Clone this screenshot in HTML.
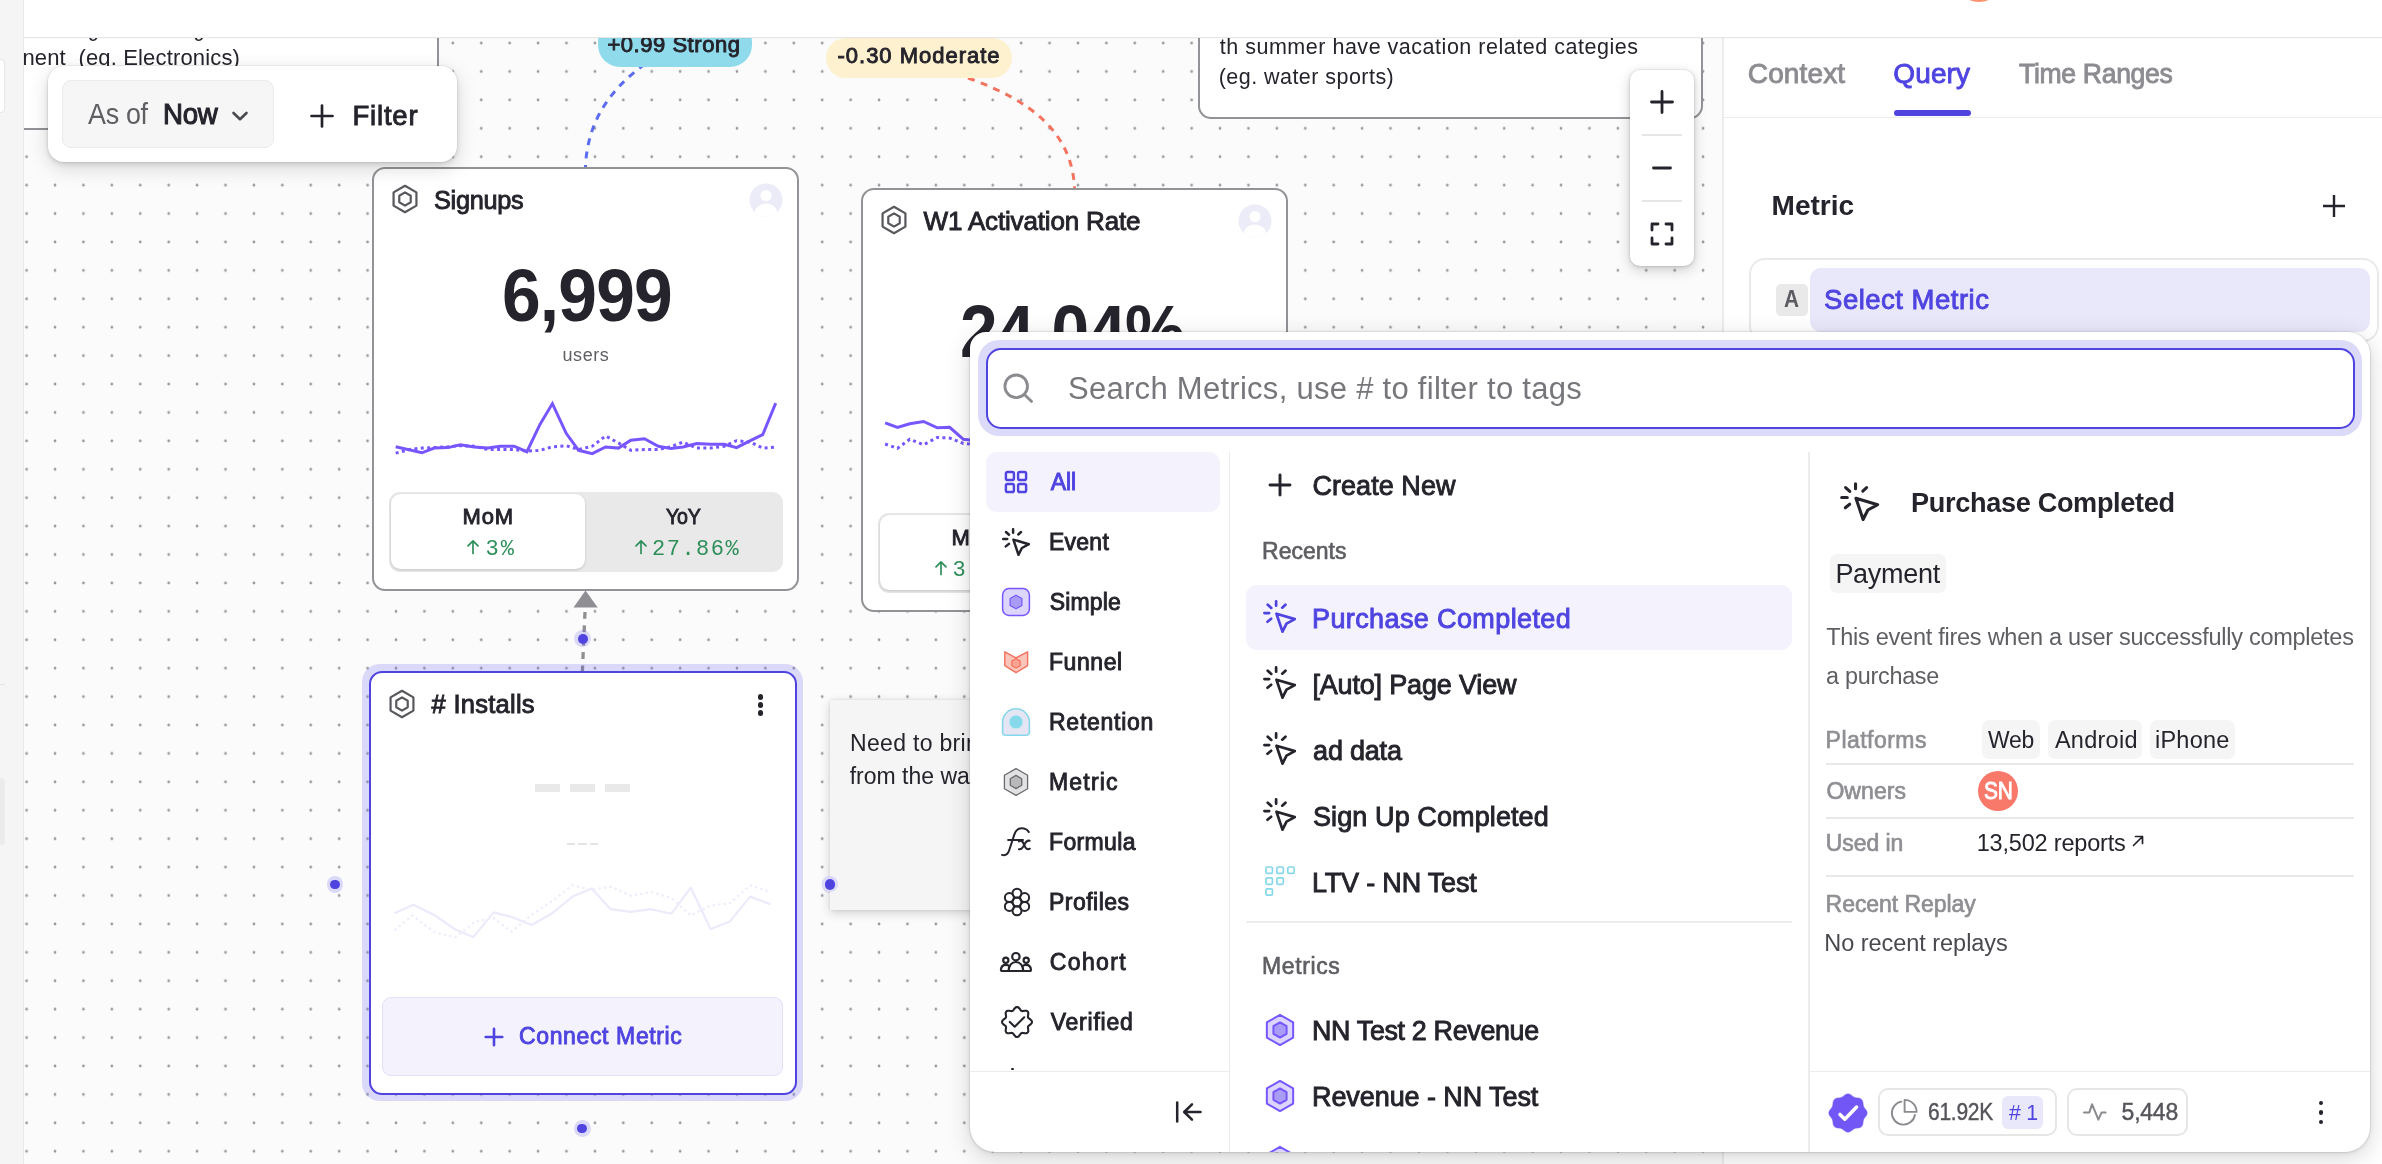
<!DOCTYPE html>
<html lang="en">
<head>
<meta charset="utf-8">
<title>Metric Tree</title>
<style>
*{box-sizing:border-box;margin:0;padding:0}
html,body{width:2382px;height:1164px;overflow:hidden;background:#fff}
body{font-family:"Liberation Sans",sans-serif;color:#25232b;position:relative}
.abs{position:absolute}
.t{position:absolute;white-space:nowrap;line-height:1}
#stage{position:absolute;left:0;top:0;width:2382px;height:1164px;overflow:hidden;will-change:transform}
#canvas{position:absolute;left:24px;top:37px;width:1699px;height:1127px;background:#fbfbfb;overflow:hidden}
#dots{position:absolute;left:0;top:0}
.card{position:absolute;background:#fff;border:2px solid #939397;border-radius:13px}
#leftstrip{position:absolute;left:0;top:0;width:24px;height:1164px;background:#f5f5f5;border-right:1px solid #e9e9e9}
#topbar{position:absolute;left:24px;top:0;width:2358px;height:38px;background:#fff;border-bottom:1px solid #e7e7e7;box-shadow:0 1px 0 rgba(0,0,0,.02)}
#rpanel{position:absolute;left:1722px;top:38px;width:660px;height:1126px;background:#fff;border-left:2px solid #ececec}
#popup{position:absolute;left:970px;top:332px;width:1400px;height:820px;background:#fff;border-radius:16px 22px 25px 25px;box-shadow:0 0 0 1px rgba(0,0,0,.06),0 6px 24px rgba(0,0,0,.16),0 1px 4px rgba(0,0,0,.10)}
</style>
</head>
<body>
<div id="stage">

<!-- CANVAS -->
<div id="canvas">
<svg id="dots" width="1699" height="1127"><defs><pattern id="dp" x="2.6" y="6.1" width="28.415" height="28.415" patternUnits="userSpaceOnUse"><circle cx="0" cy="0" r="1.35" fill="#97979c"/><circle cx="28.415" cy="0" r="1.35" fill="#97979c"/><circle cx="0" cy="28.415" r="1.35" fill="#97979c"/><circle cx="28.415" cy="28.415" r="1.35" fill="#97979c"/></pattern></defs><rect width="1699" height="1127" fill="url(#dp)"/></svg>
<div class="abs" style="left:-24px;top:-37px;width:2382px;height:1164px">
<div class="abs" style="left:10px;top:20px;width:428.5px;height:110px;background:#fff;border:2px solid #939397;border-radius:0"></div>
<span class="t" style="left:66.0px;top:19px;font-size:21.5px;color:#25232b;letter-spacing:-0.26px;transform:scaleX(0.9095);transform-origin:0 50%;">Avg</span>
<span class="t" style="left:172.5px;top:19px;font-size:21.5px;color:#25232b;letter-spacing:-0.26px;transform:scaleX(0.9265);transform-origin:0 50%;">seg</span>
<span class="t" style="left:22.4px;top:47px;font-size:22.0px;color:#25232b;letter-spacing:0.16px;white-space:pre;">nent  (eg. Electronics)</span>
<div class="abs" style="left:1197.6px;top:10px;width:505.6px;height:109.4px;background:#fff;border:2px solid #939397;border-radius:13px"></div>
<span class="t" style="left:1219.7px;top:37px;font-size:21.5px;color:#25232b;letter-spacing:0.52px;">th summer have vacation related categies</span>
<span class="t" style="left:1218.7px;top:67px;font-size:21.5px;color:#25232b;letter-spacing:0.46px;">(eg. water sports)</span>
<svg class="abs" style="left:0;top:0" width="2382" height="1164" fill="none"><path d="M645 64 C 606 92, 587 126, 585.5 167" stroke="#5c6cf0" stroke-width="3" stroke-dasharray="7 6.5"/><path d="M968 78 C 1030 100, 1072 132, 1074.5 188" stroke="#f4735f" stroke-width="3" stroke-dasharray="7 6.5"/><path d="M585 612 L582.4 671" stroke="#8f8f93" stroke-width="3.3" stroke-dasharray="6.8 6.6"/><polygon points="585.5,590.6 597.7,607.6 573.5,607.6" fill="#8f8f93"/></svg>
<div class="abs" style="left:598px;top:20px;width:154px;height:46.5px;background:#8fdaeb;border-radius:22px"></div>
<span class="t" style="left:607.4px;top:34px;font-size:22.0px;color:#25232b;-webkit-text-stroke:0.9px #25232b;letter-spacing:0.54px;">+0.99 Strong</span>
<div class="abs" style="left:826px;top:38px;width:186px;height:40px;background:#fdf1cf;border-radius:20px"></div>
<span class="t" style="left:837.5px;top:45px;font-size:22.0px;color:#25232b;-webkit-text-stroke:0.9px #25232b;letter-spacing:0.99px;">-0.30 Moderate</span>
<div class="card" style="left:371.7px;top:167.0px;width:427.5px;height:423.7px"></div>
<svg class="abs" style="left:388.1px;top:182.2px" width="34" height="34" viewBox="0 0 34 34"><polygon points="17.00,3.80 28.43,10.40 28.43,23.60 17.00,30.20 5.57,23.60 5.57,10.40" fill="none" stroke="#58575c" stroke-width="2.2" stroke-linejoin="round"/><polygon points="17.00,10.40 22.72,13.70 22.72,20.30 17.00,23.60 11.28,20.30 11.28,13.70" fill="none" stroke="#58575c" stroke-width="2.2" stroke-linejoin="round"/></svg>
<span class="t" style="left:433.7px;top:187px;font-size:26.0px;color:#25232b;-webkit-text-stroke:0.9px #25232b;letter-spacing:-0.31px;transform:scaleX(0.9740);transform-origin:0 50%;">Signups</span>
<svg class="abs" style="left:748.5px;top:182.5px" width="34" height="34" viewBox="0 0 34 34"><defs><clipPath id="av372"><circle cx="17" cy="17" r="16.5"/></clipPath></defs><circle cx="17" cy="17" r="16.5" fill="#ecebf8"/><g clip-path="url(#av372)" fill="#fff"><circle cx="17" cy="12.6" r="5.6"/><ellipse cx="17" cy="31" rx="11.5" ry="10.5"/></g></svg>
<span class="t" style="left:501.7px;top:259px;font-size:73.5px;color:#25232b;font-weight:700;letter-spacing:-0.88px;transform:scaleX(0.9459);transform-origin:0 50%;">6,999</span>
<span class="t" style="left:562.5px;top:346px;font-size:18.0px;color:#5f5e63;letter-spacing:0.57px;">users</span>
<svg class="abs" style="left:0;top:0" width="2382" height="1164" fill="none"><polyline points="395.7,446.8 421.9,452.8 434.2,448.1 448.0,447.6 460.3,444.8 474.1,447.0 487.8,448.1 500.2,446.2 514.0,446.2 526.9,451.7 540.1,424.2 552.4,403.6 566.2,433.3 578.6,450.3 592.3,453.6 605.5,447.0 618.4,448.1 630.8,440.2 644.5,438.8 658.3,446.2 670.7,448.4 683.0,447.0 696.8,443.5 710.5,444.3 724.3,444.3 736.6,447.6 750.4,440.7 762.7,434.7 775.7,403.1" stroke="#7856ff" stroke-width="3" stroke-linejoin="miter"/><polyline points="395.7,453.1 409.5,449.5 421.9,448.1 434.2,447.6 448.0,446.8 460.3,445.7 474.1,446.2 487.8,449.5 500.2,449.5 514.0,449.5 526.9,451.2 540.1,450.3 552.4,446.8 566.2,445.7 578.6,449.5 592.3,446.2 605.5,436.0 618.4,442.9 630.8,450.3 644.5,449.5 658.3,449.5 670.7,446.8 683.0,442.1 696.8,448.1 710.5,448.1 724.3,446.2 736.6,440.7 750.4,442.1 762.7,448.1 775.7,447.0" stroke="#7856ff" stroke-width="3" stroke-dasharray="3 3.4"/></svg>
<div class="abs" style="left:389px;top:492px;width:394px;height:80px;background:#e9e9e9;border-radius:11px"></div>
<div class="abs" style="left:391px;top:494px;width:193.5px;height:74.5px;background:#fff;border-radius:9.5px;box-shadow:0 1px 3px rgba(0,0,0,.16)"></div>
<span class="t" style="left:462.5px;top:506px;font-size:22.0px;color:#25232b;-webkit-text-stroke:0.9px #25232b;letter-spacing:0.87px;">MoM</span>
<span class="t" style="left:666.0px;top:506px;font-size:22.0px;color:#25232b;-webkit-text-stroke:0.9px #25232b;letter-spacing:-0.26px;transform:scaleX(0.8928);transform-origin:0 50%;">YoY</span>
<svg class="abs" style="left:466.3px;top:538.7px" width="14" height="16" fill="none" stroke="#2f8f5b" stroke-width="1.7" stroke-linecap="round" stroke-linejoin="round"><path d="M7 14.5V2M2 6.8L7 1.8L12 6.8"/></svg>
<span class="t" style="left:485.6px;top:539px;font-size:22.0px;color:#2f8f5b;font-family:'Liberation Mono',monospace;letter-spacing:1.98px;">3%</span>
<svg class="abs" style="left:633.7px;top:538.7px" width="14" height="16" fill="none" stroke="#2f8f5b" stroke-width="1.7" stroke-linecap="round" stroke-linejoin="round"><path d="M7 14.5V2M2 6.8L7 1.8L12 6.8"/></svg>
<span class="t" style="left:652.1px;top:539px;font-size:22.0px;color:#2f8f5b;font-family:'Liberation Mono',monospace;letter-spacing:1.47px;">27.86%</span>
<div class="card" style="left:860.7px;top:188.0px;width:427.5px;height:423.7px"></div>
<svg class="abs" style="left:877.1px;top:203.2px" width="34" height="34" viewBox="0 0 34 34"><polygon points="17.00,3.80 28.43,10.40 28.43,23.60 17.00,30.20 5.57,23.60 5.57,10.40" fill="none" stroke="#58575c" stroke-width="2.2" stroke-linejoin="round"/><polygon points="17.00,10.40 22.72,13.70 22.72,20.30 17.00,23.60 11.28,20.30 11.28,13.70" fill="none" stroke="#58575c" stroke-width="2.2" stroke-linejoin="round"/></svg>
<span class="t" style="left:923.6px;top:208px;font-size:26.0px;color:#25232b;-webkit-text-stroke:0.9px #25232b;letter-spacing:-0.16px;">W1 Activation Rate</span>
<svg class="abs" style="left:1237.5px;top:203.5px" width="34" height="34" viewBox="0 0 34 34"><defs><clipPath id="av861"><circle cx="17" cy="17" r="16.5"/></clipPath></defs><circle cx="17" cy="17" r="16.5" fill="#ecebf8"/><g clip-path="url(#av861)" fill="#fff"><circle cx="17" cy="12.6" r="5.6"/><ellipse cx="17" cy="31" rx="11.5" ry="10.5"/></g></svg>
<span class="t" style="left:959.6px;top:295px;font-size:73.5px;color:#25232b;font-weight:700;letter-spacing:-0.88px;transform:scaleX(0.9195);transform-origin:0 50%;">24.04%</span>
<svg class="abs" style="left:0;top:0" width="2382" height="1164" fill="none"><polyline points="885.1,422.9 897.5,427.5 909.8,423.7 923.6,421.5 937.3,427.8 949.7,427.3 963.4,439.3 977.2,440.7 989.6,432.5" stroke="#7856ff" stroke-width="3" stroke-linejoin="miter"/><polyline points="885.1,444.0 897.5,448.4 909.8,439.3 923.6,444.8 937.3,437.4 949.7,438.0 963.4,443.5 977.2,444.8" stroke="#7856ff" stroke-width="3" stroke-dasharray="3 3.4"/></svg>
<div class="abs" style="left:878px;top:513px;width:394px;height:80px;background:#e9e9e9;border-radius:11px"></div>
<div class="abs" style="left:880px;top:515px;width:193.5px;height:74.5px;background:#fff;border-radius:9.5px;box-shadow:0 1px 3px rgba(0,0,0,.16)"></div>
<span class="t" style="left:951.5px;top:527px;font-size:22.0px;color:#25232b;-webkit-text-stroke:0.9px #25232b;letter-spacing:0.87px;">MoM</span>
<span class="t" style="left:1155.0px;top:527px;font-size:22.0px;color:#25232b;-webkit-text-stroke:0.9px #25232b;letter-spacing:-0.26px;transform:scaleX(0.8928);transform-origin:0 50%;">YoY</span>
<svg class="abs" style="left:933.5px;top:559.7px" width="14" height="16" fill="none" stroke="#2f8f5b" stroke-width="1.7" stroke-linecap="round" stroke-linejoin="round"><path d="M7 14.5V2M2 6.8L7 1.8L12 6.8"/></svg>
<span class="t" style="left:952.4px;top:560px;font-size:22.0px;color:#2f8f5b;font-family:'Liberation Mono',monospace;letter-spacing:1.39px;">3.12%</span>
<svg class="abs" style="left:1116.0px;top:559.7px" width="14" height="16" fill="none" stroke="#2f8f5b" stroke-width="1.7" stroke-linecap="round" stroke-linejoin="round"><path d="M7 14.5V2M2 6.8L7 1.8L12 6.8"/></svg>
<span class="t" style="left:1134.4px;top:560px;font-size:22.0px;color:#2f8f5b;font-family:'Liberation Mono',monospace;letter-spacing:1.48px;">14.52%</span>
<div class="abs" style="left:574.3px;top:630.3px;width:16.8px;height:16.8px;border-radius:50%;background:rgba(96,86,246,.2)"></div>
<div class="abs" style="left:577.8px;top:633.8px;width:9.8px;height:9.8px;border-radius:50%;background:#4f44e0"></div>
<div class="abs" style="left:326.6px;top:876.0px;width:16.8px;height:16.8px;border-radius:50%;background:rgba(96,86,246,.2)"></div>
<div class="abs" style="left:330.1px;top:879.5px;width:9.8px;height:9.8px;border-radius:50%;background:#4f44e0"></div>
<div class="abs" style="left:821.6px;top:876.0px;width:16.8px;height:16.8px;border-radius:50%;background:rgba(96,86,246,.2)"></div>
<div class="abs" style="left:825.1px;top:879.5px;width:9.8px;height:9.8px;border-radius:50%;background:#4f44e0"></div>
<div class="abs" style="left:573.9px;top:1120.0px;width:16.8px;height:16.8px;border-radius:50%;background:rgba(96,86,246,.2)"></div>
<div class="abs" style="left:577.4px;top:1123.5px;width:9.8px;height:9.8px;border-radius:50%;background:#4f44e0"></div>
<div class="abs" style="left:829.6px;top:700.3px;width:300px;height:209.3px;background:#f5f5f5;box-shadow:0 3px 10px rgba(0,0,0,.17),0 0 3px rgba(0,0,0,.10)"></div>
<div class="abs" style="left:822px;top:876.4px;width:16px;height:16px;border-radius:50%;background:#dcdaf9"></div><div class="abs" style="left:824.8px;top:879.2px;width:10.4px;height:10.4px;border-radius:50%;background:#4f44e0"></div>
<span class="t" style="left:850.1px;top:732px;font-size:23.0px;color:#25232b;letter-spacing:0.3px;">Need to bring</span>
<span class="t" style="left:849.7px;top:765px;font-size:23.0px;color:#25232b;letter-spacing:0px;">from the way</span>
<div class="abs" style="left:362.3px;top:663.7px;width:440.7px;height:437.6px;background:rgba(96,86,246,.2);border-radius:18px"></div>
<div class="abs" style="left:368.5px;top:670.5px;width:428px;height:424px;background:#fff;border:2px solid #4f44e0;border-radius:13px"></div>
<svg class="abs" style="left:385.0px;top:687.0px" width="34" height="34" viewBox="0 0 34 34"><polygon points="17.00,3.80 28.43,10.40 28.43,23.60 17.00,30.20 5.57,23.60 5.57,10.40" fill="none" stroke="#58575c" stroke-width="2.2" stroke-linejoin="round"/><polygon points="17.00,10.40 22.72,13.70 22.72,20.30 17.00,23.60 11.28,20.30 11.28,13.70" fill="none" stroke="#58575c" stroke-width="2.2" stroke-linejoin="round"/></svg>
<span class="t" style="left:431.6px;top:692px;font-size:25.5px;color:#25232b;-webkit-text-stroke:0.9px #25232b;letter-spacing:0.26px;"># Installs</span>
<div class="abs" style="left:757.5px;top:694.2px;width:5.4px;height:5.4px;border-radius:50%;background:#25232b"></div>
<div class="abs" style="left:757.5px;top:702.4px;width:5.4px;height:5.4px;border-radius:50%;background:#25232b"></div>
<div class="abs" style="left:757.5px;top:710.3px;width:5.4px;height:5.4px;border-radius:50%;background:#25232b"></div>
<div class="abs" style="left:535.0px;top:784.4px;width:24.8px;height:8.1px;background:#e9e9e9"></div>
<div class="abs" style="left:566.5px;top:843px;width:8.5px;height:2.2px;background:#e4e4e4"></div>
<div class="abs" style="left:570.0px;top:784.4px;width:24.8px;height:8.1px;background:#e9e9e9"></div>
<div class="abs" style="left:578.0px;top:843px;width:8.5px;height:2.2px;background:#e4e4e4"></div>
<div class="abs" style="left:605.0px;top:784.4px;width:24.8px;height:8.1px;background:#e9e9e9"></div>
<div class="abs" style="left:589.5px;top:843px;width:8.5px;height:2.2px;background:#e4e4e4"></div>
<svg class="abs" style="left:0;top:0" width="2382" height="1164" fill="none"><polyline points="394.5,913.3 413.4,904.7 435.0,915.5 455.3,929.5 473.3,937.1 493.6,912.4 511.6,916.9 531.8,925.0 552.1,913.3 572.4,896.6 591.7,888.5 610.6,909.2 630.9,911.9 651.1,909.2 671.4,913.7 690.7,887.6 710.6,929.0 729.9,921.4 750.2,896.6 770.4,904.2" stroke="#eceafb" stroke-width="2.2" stroke-linejoin="round"/><polyline points="394.5,930.4 412.5,915.5 435.0,932.6 455.3,937.1 475.6,921.4 493.6,918.2 511.6,931.7 531.8,914.6 552.1,901.1 572.4,885.3 591.7,889.8 610.6,886.7 630.9,895.7 651.1,892.1 671.4,897.9 690.7,915.5 710.6,905.6 729.9,903.3 750.2,885.3 770.4,892.1" stroke="#efedfb" stroke-width="2.2" stroke-dasharray="2.5 3"/></svg>
<div class="abs" style="left:382px;top:997px;width:401px;height:79px;background:#f3f2fd;border:1.5px solid #e2e0fa;border-radius:9px"></div>
<svg class="abs" style="left:484px;top:1026.7px" width="20" height="20" fill="none" stroke="#4f44e0" stroke-width="2.6" stroke-linecap="round"><path d="M10 1.7V18.3M1.7 10H18.3"/></svg>
<span class="t" style="left:519.0px;top:1025px;font-size:23.0px;color:#4f44e0;-webkit-text-stroke:0.9px #4f44e0;letter-spacing:0.63px;">Connect Metric</span>
<div class="abs" style="left:47.9px;top:65.6px;width:408.7px;height:96.6px;background:#fff;border-radius:16px;box-shadow:0 0 0 1px rgba(0,0,0,.04),0 6px 20px rgba(0,0,0,.15),0 2px 5px rgba(0,0,0,.12)"></div>
<div class="abs" style="left:62px;top:80.4px;width:211.6px;height:67.2px;background:#f6f6f6;border:1.5px solid #ebebeb;border-radius:9px"></div>
<span class="t" style="left:88.1px;top:100px;font-size:29.0px;color:#5f5e63;letter-spacing:-0.35px;transform:scaleX(0.9280);transform-origin:0 50%;">As of</span>
<span class="t" style="left:162.7px;top:100px;font-size:29.0px;color:#25232b;-webkit-text-stroke:1.1px #25232b;letter-spacing:-0.35px;transform:scaleX(0.9530);transform-origin:0 50%;">Now</span>
<svg class="abs" style="left:231.1px;top:108.8px" width="18" height="14" fill="none" stroke="#4a494f" stroke-width="2.6" stroke-linecap="round" stroke-linejoin="round"><path d="M2.5 4L9 10.2L15.5 4"/></svg>
<svg class="abs" style="left:310px;top:104.2px" width="24" height="24" fill="none" stroke="#25232b" stroke-width="2.7" stroke-linecap="round"><path d="M12 1.5V22.5M1.5 12H22.5"/></svg>
<span class="t" style="left:352.4px;top:102px;font-size:27.5px;color:#25232b;-webkit-text-stroke:0.9px #25232b;letter-spacing:0.83px;">Filter</span>
<div class="abs" style="left:1630px;top:70px;width:64px;height:196px;background:#fff;border-radius:10px;box-shadow:0 0 0 1px rgba(0,0,0,.04),0 4px 14px rgba(0,0,0,.18),0 1px 4px rgba(0,0,0,.12)"></div>
<div class="abs" style="left:1642px;top:134px;width:40px;height:1.5px;background:#e6e6e6"></div><div class="abs" style="left:1642px;top:200px;width:40px;height:1.5px;background:#e6e6e6"></div>
<svg class="abs" style="left:1630px;top:70px" width="64" height="196" fill="none" stroke="#25232b" stroke-width="2.8" stroke-linecap="round" stroke-linejoin="round"><path d="M32 21.5V42.5M21.5 32H42.5"/><path d="M23.5 98H40.5"/><path d="M22 160V154H28M36 154H42V160M42 168V174H36M28 174H22V168" stroke-width="2.8"/></svg>
</div>
</div>

<!-- RIGHT PANEL -->
<div id="rpanel">
<div class="abs" style="left:-1724px;top:-38px;width:2382px;height:1164px">
<span class="t" style="left:1747.8px;top:60px;font-size:28.0px;color:#8c8c91;-webkit-text-stroke:0.9px #8c8c91;letter-spacing:0.14px;">Context</span>
<span class="t" style="left:1893.3px;top:60px;font-size:28.0px;color:#4f44e0;-webkit-text-stroke:0.9px #4f44e0;letter-spacing:0.12px;">Query</span>
<span class="t" style="left:2019.0px;top:60px;font-size:28.0px;color:#8c8c91;-webkit-text-stroke:0.9px #8c8c91;letter-spacing:-0.34px;transform:scaleX(0.9489);transform-origin:0 50%;">Time Ranges</span>
<div class="abs" style="left:1894.2px;top:109.9px;width:76.8px;height:6px;background:#4f44e0;border-radius:3px"></div>
<div class="abs" style="left:1724px;top:116.5px;width:660px;height:1.5px;background:#ececec"></div>
<span class="t" style="left:1771.6px;top:192px;font-size:28.0px;color:#25232b;font-weight:700;letter-spacing:-0.00px;">Metric</span>
<svg class="abs" style="left:2322px;top:194px" width="24" height="24" fill="none" stroke="#25232b" stroke-width="2.4" stroke-linecap="butt"><path d="M12 1V23M1 12H23"/></svg>
<div class="abs" style="left:1749px;top:258px;width:630px;height:84px;border:2px solid #e9e9e9;border-radius:16px;background:#fff"></div>
<div class="abs" style="left:1776px;top:284px;width:31.7px;height:31.7px;background:#e9e9e9;border-radius:5px"></div>
<span class="t" style="left:1784.4px;top:288px;font-size:23.0px;color:#5c5b61;font-weight:700;letter-spacing:-0.28px;transform:scaleX(0.9052);transform-origin:0 50%;">A</span>
<div class="abs" style="left:1810px;top:268px;width:560px;height:64px;background:#e9e8fb;border-radius:11px"></div>
<span class="t" style="left:1824.1px;top:286px;font-size:27.5px;color:#4f44e0;-webkit-text-stroke:0.9px #4f44e0;letter-spacing:0.49px;">Select Metric</span>
</div>
</div>

<!-- TOP BAR -->
<div id="topbar"><div class="abs" style="left:1928.9px;top:-50.1px;width:52px;height:52px;border-radius:50%;background:#f9946f"></div></div>
<div id="leftstrip"><div class="abs" style="left:-8px;top:59px;width:12.5px;height:54px;background:#fff;border:1px solid #e6e6e6;border-radius:4px"></div><div class="abs" style="left:0;top:684px;width:5px;height:1px;background:#e4e4e4"></div><div class="abs" style="left:-6px;top:778px;width:11px;height:67px;background:#ebebeb;border-radius:4px"></div></div>

<!-- POPUP -->
<div id="popup">
<div class="abs" style="left:-970px;top:-332px;width:2382px;height:1164px">
<div class="abs" style="left:977.8px;top:340px;width:1384.4px;height:95.8px;background:#dcdaf9;border-radius:21px"></div>
<div class="abs" style="left:985.5px;top:347.5px;width:1369px;height:81px;background:#fff;border:2.5px solid #4f44e0;border-radius:15px"></div>
<svg class="abs" style="left:1001px;top:372px" width="34" height="34" fill="none" stroke="#8a8a8f" stroke-width="2.8" stroke-linecap="round"><circle cx="15.2" cy="14.3" r="11.3"/><path d="M23.4 22.6L30.6 29.4"/></svg>
<span class="t" style="left:1068.0px;top:373px;font-size:31.0px;color:#77767b;letter-spacing:0.28px;">Search Metrics, use # to filter to tags</span>
<div class="abs" style="left:986px;top:452px;width:234px;height:59.5px;background:#f3f2fd;border-radius:11px"></div>
<div class="abs" style="left:1228.5px;top:452px;width:1.5px;height:700px;background:#ececec"></div>
<div class="abs" style="left:970px;top:1070.5px;width:259px;height:1.5px;background:#ececec"></div>
<span class="t" style="left:1050.8px;top:471px;font-size:23.0px;color:#4f44e0;-webkit-text-stroke:0.9px #4f44e0;letter-spacing:-0.14px;">All</span>
<span class="t" style="left:1049.0px;top:531px;font-size:23.0px;color:#25232b;-webkit-text-stroke:0.9px #25232b;letter-spacing:0.24px;">Event</span>
<span class="t" style="left:1049.8px;top:591px;font-size:23.0px;color:#25232b;-webkit-text-stroke:0.9px #25232b;letter-spacing:0.15px;">Simple</span>
<span class="t" style="left:1049.0px;top:651px;font-size:23.0px;color:#25232b;-webkit-text-stroke:0.9px #25232b;letter-spacing:0.57px;">Funnel</span>
<span class="t" style="left:1049.0px;top:711px;font-size:23.0px;color:#25232b;-webkit-text-stroke:0.9px #25232b;letter-spacing:0.74px;">Retention</span>
<span class="t" style="left:1049.0px;top:771px;font-size:23.0px;color:#25232b;-webkit-text-stroke:0.9px #25232b;letter-spacing:1.20px;">Metric</span>
<span class="t" style="left:1049.0px;top:831px;font-size:23.0px;color:#25232b;-webkit-text-stroke:0.9px #25232b;letter-spacing:0.36px;">Formula</span>
<span class="t" style="left:1049.0px;top:891px;font-size:23.0px;color:#25232b;-webkit-text-stroke:0.9px #25232b;letter-spacing:0.47px;">Profiles</span>
<span class="t" style="left:1049.7px;top:951px;font-size:23.0px;color:#25232b;-webkit-text-stroke:0.9px #25232b;letter-spacing:1.40px;">Cohort</span>
<span class="t" style="left:1050.7px;top:1011px;font-size:23.0px;color:#25232b;-webkit-text-stroke:0.9px #25232b;letter-spacing:0.78px;">Verified</span>
<svg class="abs" style="left:1004px;top:470px" width="26" height="26" fill="none" stroke="#4f44e0" stroke-width="2.4"><rect x="1.9" y="2" width="8" height="8" rx="1.6"/><rect x="14.1" y="2" width="8" height="8" rx="1.6"/><rect x="1.9" y="14" width="8" height="8" rx="1.6"/><rect x="14.1" y="14" width="8" height="8" rx="1.6"/></svg>
<svg class="abs" style="left:1002.0px;top:527.7px" width="28.0" height="28.0" viewBox="0 0 28 28" fill="none" stroke="#25232b" stroke-width="2.5" stroke-linecap="round" stroke-linejoin="round"><path d="M11.1 1.2V4.8M4 4L7 6.7M1.2 11.1H5.2M3.8 18.4L6.9 15.9M19 4L16.3 6.5"/><path d="M11.4 11.6L26.9 16.2L19.9 20L16.5 26.8Z"/></svg>
<svg class="abs" style="left:1000px;top:586px" width="32" height="32"><rect x="2.6" y="2.6" width="26.8" height="26.8" rx="6.3" fill="#dcd6fd" stroke="#7856ff" stroke-width="1.5"/><polygon points="16.00,9.20 21.89,12.60 21.89,19.40 16.00,22.80 10.11,19.40 10.11,12.60" fill="#a99cf6" stroke="#7856ff" stroke-width="1.2" stroke-linejoin="round"/></svg>
<svg class="abs" style="left:1000px;top:648px" width="32" height="30"><path d="M4.8 3.8L16 9.9L27.6 3.8V17.6L16 24.7L4.8 17.6Z" fill="#fbc5ba" stroke="#f4705d" stroke-width="1.4" stroke-linejoin="round"/><polygon points="16.00,10.50 20.16,12.90 20.16,17.70 16.00,20.10 11.84,17.70 11.84,12.90" fill="#f9a393" stroke="#f4705d" stroke-width="1.2" stroke-linejoin="round"/></svg>
<svg class="abs" style="left:1000px;top:706px" width="32" height="32"><path d="M2.6 16.2A13.4 13.4 0 0 1 29.4 16.2V26.2A3 3 0 0 1 26.4 29.2H5.6A3 3 0 0 1 2.6 26.2Z" fill="#e6e5f3" stroke="#86d8ea" stroke-width="1.6"/><circle cx="16" cy="16" r="6.8" fill="#86d8ea" stroke="#bfeaf3" stroke-width="1"/></svg>
<svg class="abs" style="left:998.0px;top:763.7px" width="36" height="36" viewBox="0 0 36 36"><polygon points="18.00,4.60 29.60,11.30 29.60,24.70 18.00,31.40 6.40,24.70 6.40,11.30" fill="#e2e2e2" stroke="#6b6a70" stroke-width="1.3" stroke-linejoin="round"/><polygon points="18.00,11.40 23.72,14.70 23.72,21.30 18.00,24.60 12.28,21.30 12.28,14.70" fill="#b9b9bc" stroke="#6b6a70" stroke-width="1.3" stroke-linejoin="round"/></svg>
<svg class="abs" style="left:1000px;top:826px" width="34" height="34" fill="none" stroke="#25232b" stroke-width="2" stroke-linecap="round" stroke-linejoin="round"><path d="M2 28.9C5.6 29.9 8 28 9.3 24L14.3 8.6C15.8 4 19.5 1.7 24 2.6C26.3 3.1 28 4.4 28.8 6"/><path d="M8.1 14.1H23"/><path d="M18.9 15.4C21.5 13.8 23 15.7 24.2 18.9C25.4 22.1 27 24.3 29.9 22.7"/><path d="M29.7 14.7C26.5 14.1 25 17.1 24.2 18.9C23.4 20.7 22 23.9 18.9 23.3"/></svg>
<svg class="abs" style="left:1000.6px;top:887px" width="32" height="30" fill="none" stroke="#25232b" stroke-width="2"><circle cx="16" cy="15" r="4.5"/><circle cx="16.00" cy="6.20" r="4.5"/><circle cx="23.62" cy="10.60" r="4.5"/><circle cx="23.62" cy="19.40" r="4.5"/><circle cx="16.00" cy="23.80" r="4.5"/><circle cx="8.38" cy="19.40" r="4.5"/><circle cx="8.38" cy="10.60" r="4.5"/></svg>
<svg class="abs" style="left:999px;top:948px" width="36" height="28" fill="none" stroke="#25232b" stroke-width="2.2" stroke-linecap="round" stroke-linejoin="round"><circle cx="16.9" cy="8.7" r="3.7"/><circle cx="6.8" cy="12.3" r="2.6"/><circle cx="27.2" cy="12.3" r="2.6"/><path d="M9.6 22.6C9.6 17.4 12.8 14 16.9 14C21 14 24.2 17.4 24.2 22.6"/><path d="M1.9 21.8C2.2 18.6 4.2 16.8 6.8 16.8C8.3 16.8 9.6 17.3 10.6 18.3"/><path d="M32 21.8C31.7 18.6 29.7 16.8 27.1 16.8C25.6 16.8 24.3 17.3 23.3 18.3"/><path d="M2.4 23H31.6"/></svg>
<svg class="abs" style="left:999.8px;top:1004.9px" width="34" height="34" fill="none" stroke="#25232b" stroke-width="2.1" stroke-linecap="round" stroke-linejoin="round"><path d="M17.00 1.95L18.28 2.37L19.39 3.44L20.29 4.71L21.12 5.68L22.09 6.08L23.36 5.98L24.90 5.72L26.44 5.75L27.64 6.36L28.25 7.56L28.28 9.10L28.02 10.64L27.92 11.91L28.32 12.88L29.29 13.71L30.56 14.61L31.63 15.72L32.05 17.00L31.63 18.28L30.56 19.39L29.29 20.29L28.32 21.12L27.92 22.09L28.02 23.36L28.28 24.90L28.25 26.44L27.64 27.64L26.44 28.25L24.90 28.28L23.36 28.02L22.09 27.92L21.12 28.32L20.29 29.29L19.39 30.56L18.28 31.63L17.00 32.05L15.72 31.63L14.61 30.56L13.71 29.29L12.88 28.32L11.91 27.92L10.64 28.02L9.10 28.28L7.56 28.25L6.36 27.64L5.75 26.44L5.72 24.90L5.98 23.36L6.08 22.09L5.68 21.12L4.71 20.29L3.44 19.39L2.37 18.28L1.95 17.00L2.37 15.72L3.44 14.61L4.71 13.71L5.68 12.88L6.08 11.91L5.98 10.64L5.72 9.10L5.75 7.56L6.36 6.36L7.56 5.75L9.10 5.72L10.64 5.98L11.91 6.08L12.88 5.68L13.71 4.71L14.61 3.44L15.72 2.37Z"/><path d="M9.8 16.9L14.7 21.7L24.2 12.3"/></svg>
<div class="abs" style="left:1011px;top:1067.5px;width:2.6px;height:2.6px;border-radius:50%;background:#25232b"></div>
<svg class="abs" style="left:1172px;top:1098px" width="34" height="28" fill="none" stroke="#25232b" stroke-width="2.5" stroke-linecap="round" stroke-linejoin="round"><path d="M5.2 4.5V23.5"/><path d="M28.5 14H12.5M20 6.3L12.2 14L20 21.7"/></svg>
<svg class="abs" style="left:1267px;top:472px" width="26" height="26" fill="none" stroke="#25232b" stroke-width="2.9" stroke-linecap="round"><path d="M13 3V23M3 13H23"/></svg>
<span class="t" style="left:1312.4px;top:473px;font-size:27.0px;color:#25232b;-webkit-text-stroke:0.9px #25232b;letter-spacing:0.06px;">Create New</span>
<span class="t" style="left:1262.1px;top:540px;font-size:23.0px;color:#5f5e63;-webkit-text-stroke:0.65px #5f5e63;letter-spacing:-0.00px;">Recents</span>
<div class="abs" style="left:1246px;top:584.5px;width:546px;height:65px;background:#f3f2fd;border-radius:11px"></div>
<svg class="abs" style="left:1262.9px;top:599.8px" width="33.1" height="33.1" viewBox="0 0 28 28" fill="none" stroke="#4f44e0" stroke-width="2.3" stroke-linecap="round" stroke-linejoin="round"><path d="M11.1 1.2V4.8M4 4L7 6.7M1.2 11.1H5.2M3.8 18.4L6.9 15.9M19 4L16.3 6.5"/><path d="M11.4 11.6L26.9 16.2L19.9 20L16.5 26.8Z"/></svg>
<span class="t" style="left:1312.0px;top:606px;font-size:27.0px;color:#4f44e0;-webkit-text-stroke:0.9px #4f44e0;letter-spacing:0.39px;">Purchase Completed</span>
<svg class="abs" style="left:1262.9px;top:665.8px" width="33.1" height="33.1" viewBox="0 0 28 28" fill="none" stroke="#25232b" stroke-width="2.3" stroke-linecap="round" stroke-linejoin="round"><path d="M11.1 1.2V4.8M4 4L7 6.7M1.2 11.1H5.2M3.8 18.4L6.9 15.9M19 4L16.3 6.5"/><path d="M11.4 11.6L26.9 16.2L19.9 20L16.5 26.8Z"/></svg>
<span class="t" style="left:1312.4px;top:672px;font-size:27.0px;color:#25232b;-webkit-text-stroke:0.9px #25232b;letter-spacing:-0.17px;">[Auto] Page View</span>
<svg class="abs" style="left:1262.9px;top:731.8px" width="33.1" height="33.1" viewBox="0 0 28 28" fill="none" stroke="#25232b" stroke-width="2.3" stroke-linecap="round" stroke-linejoin="round"><path d="M11.1 1.2V4.8M4 4L7 6.7M1.2 11.1H5.2M3.8 18.4L6.9 15.9M19 4L16.3 6.5"/><path d="M11.4 11.6L26.9 16.2L19.9 20L16.5 26.8Z"/></svg>
<span class="t" style="left:1313.1px;top:738px;font-size:27.0px;color:#25232b;-webkit-text-stroke:0.9px #25232b;letter-spacing:-0.21px;">ad data</span>
<svg class="abs" style="left:1262.9px;top:797.8px" width="33.1" height="33.1" viewBox="0 0 28 28" fill="none" stroke="#25232b" stroke-width="2.3" stroke-linecap="round" stroke-linejoin="round"><path d="M11.1 1.2V4.8M4 4L7 6.7M1.2 11.1H5.2M3.8 18.4L6.9 15.9M19 4L16.3 6.5"/><path d="M11.4 11.6L26.9 16.2L19.9 20L16.5 26.8Z"/></svg>
<span class="t" style="left:1313.0px;top:804px;font-size:27.0px;color:#25232b;-webkit-text-stroke:0.9px #25232b;letter-spacing:0.10px;">Sign Up Completed</span>
<svg class="abs" style="left:1265px;top:866px" width="32" height="32" fill="none" stroke="#86d8ea" stroke-width="1.7"><rect x="1.0" y="1.0" width="6.4" height="6.4" rx="1.2"/><rect x="11.9" y="1.0" width="6.4" height="6.4" rx="1.2"/><rect x="22.8" y="1.0" width="6.4" height="6.4" rx="1.2"/><rect x="1.0" y="11.9" width="6.4" height="6.4" rx="1.2"/><rect x="11.9" y="11.9" width="6.4" height="6.4" rx="1.2"/><rect x="1.0" y="22.8" width="6.4" height="6.4" rx="1.2"/></svg>
<span class="t" style="left:1312.0px;top:870px;font-size:27.0px;color:#25232b;-webkit-text-stroke:0.9px #25232b;letter-spacing:-0.19px;">LTV - NN Test</span>
<div class="abs" style="left:1246px;top:921px;width:546px;height:2px;background:#ececec"></div>
<span class="t" style="left:1262.1px;top:955px;font-size:23.0px;color:#5f5e63;-webkit-text-stroke:0.65px #5f5e63;letter-spacing:0.61px;">Metrics</span>
<svg class="abs" style="left:1262.0px;top:1012.3px" width="36" height="36" viewBox="0 0 36 36"><polygon points="18.00,2.80 31.16,10.40 31.16,25.60 18.00,33.20 4.84,25.60 4.84,10.40" fill="#dcd6fd" stroke="#7856ff" stroke-width="2" stroke-linejoin="round"/><polygon points="18.00,10.40 24.58,14.20 24.58,21.80 18.00,25.60 11.42,21.80 11.42,14.20" fill="#a99cf6" stroke="#7856ff" stroke-width="2" stroke-linejoin="round"/></svg>
<span class="t" style="left:1312.0px;top:1018px;font-size:27.0px;color:#25232b;-webkit-text-stroke:0.9px #25232b;letter-spacing:-0.32px;transform:scaleX(0.9940);transform-origin:0 50%;">NN Test 2 Revenue</span>
<svg class="abs" style="left:1262.0px;top:1078.3px" width="36" height="36" viewBox="0 0 36 36"><polygon points="18.00,2.80 31.16,10.40 31.16,25.60 18.00,33.20 4.84,25.60 4.84,10.40" fill="#dcd6fd" stroke="#7856ff" stroke-width="2" stroke-linejoin="round"/><polygon points="18.00,10.40 24.58,14.20 24.58,21.80 18.00,25.60 11.42,21.80 11.42,14.20" fill="#a99cf6" stroke="#7856ff" stroke-width="2" stroke-linejoin="round"/></svg>
<span class="t" style="left:1312.0px;top:1084px;font-size:27.0px;color:#25232b;-webkit-text-stroke:0.9px #25232b;letter-spacing:-0.08px;">Revenue - NN Test</span>
<div class="abs" style="left:1260px;top:1140px;width:40px;height:12px;overflow:hidden"><svg class="abs" style="left:2.0px;top:4.3px" width="36" height="36" viewBox="0 0 36 36"><polygon points="18.00,2.80 31.16,10.40 31.16,25.60 18.00,33.20 4.84,25.60 4.84,10.40" fill="#dcd6fd" stroke="#7856ff" stroke-width="2" stroke-linejoin="round"/><polygon points="18.00,10.40 24.58,14.20 24.58,21.80 18.00,25.60 11.42,21.80 11.42,14.20" fill="#a99cf6" stroke="#7856ff" stroke-width="2" stroke-linejoin="round"/></svg></div>
<div class="abs" style="left:1808px;top:452px;width:1.5px;height:700px;background:#ececec"></div>
<svg class="abs" style="left:1840.4px;top:482.4px" width="39.2" height="39.2" viewBox="0 0 28 28" fill="none" stroke="#25232b" stroke-width="2.2" stroke-linecap="round" stroke-linejoin="round"><path d="M11.1 1.2V4.8M4 4L7 6.7M1.2 11.1H5.2M3.8 18.4L6.9 15.9M19 4L16.3 6.5"/><path d="M11.4 11.6L26.9 16.2L19.9 20L16.5 26.8Z"/></svg>
<span class="t" style="left:1911.2px;top:489px;font-size:27.5px;color:#25232b;font-weight:700;letter-spacing:-0.33px;transform:scaleX(0.9856);transform-origin:0 50%;">Purchase Completed</span>
<div class="abs" style="left:1830px;top:554px;width:116px;height:38.7px;background:#f5f5f5;border-radius:7px"></div>
<span class="t" style="left:1835.4px;top:561px;font-size:27.0px;color:#25232b;letter-spacing:-0.30px;">Payment</span>
<span class="t" style="left:1826.2px;top:626px;font-size:23.5px;color:#5f5e63;letter-spacing:-0.26px;">This event fires when a user successfully completes</span>
<span class="t" style="left:1825.7px;top:665px;font-size:23.5px;color:#5f5e63;letter-spacing:-0.28px;transform:scaleX(0.9961);transform-origin:0 50%;">a purchase</span>
<span class="t" style="left:1825.6px;top:729px;font-size:23.0px;color:#8e8e93;-webkit-text-stroke:0.65px #8e8e93;letter-spacing:0.47px;">Platforms</span>
<div class="abs" style="left:1982.0px;top:720px;width:58.0px;height:38.8px;background:#f5f5f5;border-radius:7px"></div>
<span class="t" style="left:1988.1px;top:729px;font-size:23.5px;color:#25232b;letter-spacing:-0.28px;transform:scaleX(0.9749);transform-origin:0 50%;">Web</span>
<div class="abs" style="left:2048.0px;top:720px;width:93.7px;height:38.8px;background:#f5f5f5;border-radius:7px"></div>
<span class="t" style="left:2054.9px;top:729px;font-size:23.5px;color:#25232b;letter-spacing:0.26px;">Android</span>
<div class="abs" style="left:2149.7px;top:720px;width:85.3px;height:38.8px;background:#f5f5f5;border-radius:7px"></div>
<span class="t" style="left:2155.1px;top:729px;font-size:23.5px;color:#25232b;letter-spacing:0.19px;">iPhone</span>
<div class="abs" style="left:1826px;top:763.0px;width:528px;height:2px;background:#e9e9e9"></div>
<div class="abs" style="left:1826px;top:817.0px;width:528px;height:2px;background:#e9e9e9"></div>
<div class="abs" style="left:1826px;top:875.0px;width:528px;height:2px;background:#e9e9e9"></div>
<span class="t" style="left:1826.4px;top:780px;font-size:23.0px;color:#8e8e93;-webkit-text-stroke:0.65px #8e8e93;letter-spacing:0.08px;">Owners</span>
<div class="abs" style="left:1977.6px;top:771px;width:40px;height:40px;border-radius:50%;background:#f8786a"></div>
<span class="t" style="left:1984.2px;top:780px;font-size:23.0px;color:#fff;-webkit-text-stroke:0.9px #fff;letter-spacing:-0.28px;transform:scaleX(0.9075);transform-origin:0 50%;">SN</span>
<span class="t" style="left:1825.7px;top:832px;font-size:23.0px;color:#8e8e93;-webkit-text-stroke:0.65px #8e8e93;letter-spacing:-0.05px;">Used in</span>
<span class="t" style="left:1976.7px;top:832px;font-size:23.5px;color:#25232b;letter-spacing:-0.19px;">13,502 reports</span>
<svg class="abs" style="left:2131px;top:834px" width="14" height="14" fill="none" stroke="#25232b" stroke-width="1.7" stroke-linecap="round" stroke-linejoin="round"><path d="M2.5 11.5L11.5 2.5M4.5 2.5H11.5V9.5"/></svg>
<span class="t" style="left:1825.6px;top:893px;font-size:23.0px;color:#8e8e93;-webkit-text-stroke:0.65px #8e8e93;letter-spacing:-0.06px;">Recent Replay</span>
<span class="t" style="left:1824.3px;top:932px;font-size:23.5px;color:#4a494f;letter-spacing:-0.04px;">No recent replays</span>
<div class="abs" style="left:1809px;top:1070.5px;width:561px;height:1.5px;background:#ececec"></div>
<svg class="abs" style="left:1827px;top:1091.7px" width="42" height="42"><path d="M21.00 1.85L22.65 2.19L24.16 3.08L25.51 4.17L26.79 5.10L28.15 5.67L29.71 5.91L31.44 6.09L33.14 6.54L34.54 7.46L35.46 8.86L35.91 10.56L36.09 12.29L36.33 13.85L36.90 15.21L37.83 16.49L38.92 17.84L39.81 19.35L40.15 21.00L39.81 22.65L38.92 24.16L37.83 25.51L36.90 26.79L36.33 28.15L36.09 29.71L35.91 31.44L35.46 33.14L34.54 34.54L33.14 35.46L31.44 35.91L29.71 36.09L28.15 36.33L26.79 36.90L25.51 37.83L24.16 38.92L22.65 39.81L21.00 40.15L19.35 39.81L17.84 38.92L16.49 37.83L15.21 36.90L13.85 36.33L12.29 36.09L10.56 35.91L8.86 35.46L7.46 34.54L6.54 33.14L6.09 31.44L5.91 29.71L5.67 28.15L5.10 26.79L4.17 25.51L3.08 24.16L2.19 22.65L1.85 21.00L2.19 19.35L3.08 17.84L4.17 16.49L5.10 15.21L5.67 13.85L5.91 12.29L6.09 10.56L6.54 8.86L7.46 7.46L8.86 6.54L10.56 6.09L12.29 5.91L13.85 5.67L15.21 5.10L16.49 4.17L17.84 3.08L19.35 2.19Z" fill="#7357f6" stroke="#7357f6" stroke-width="0.6" stroke-linejoin="round"/><path d="M13 22.4L17.8 27.2L29.6 15" fill="none" stroke="#fff" stroke-width="3.5" stroke-linecap="round" stroke-linejoin="round"/></svg>
<div class="abs" style="left:1878.2px;top:1088px;width:178.4px;height:47.5px;border:2px solid #e6e6e6;border-radius:10px"></div>
<svg class="abs" style="left:1889.8px;top:1097.9px" width="28" height="28" fill="none" stroke="#8a8a8f" stroke-width="1.9" stroke-linecap="round" stroke-linejoin="round"><path d="M11.4 3.6A11.6 11.6 0 1 0 24.9 17"/><path d="M14.6 1.9V13.9H26.6A12 12 0 0 0 14.6 1.9Z"/></svg>
<span class="t" style="left:1928.1px;top:1101px;font-size:23.0px;color:#55545a;-webkit-text-stroke:0.4px #55545a;letter-spacing:-0.28px;transform:scaleX(0.9131);transform-origin:0 50%;">61.92K</span>
<div class="abs" style="left:2002.4px;top:1096px;width:40.5px;height:32.7px;background:#e9e8fb;border-radius:6px"></div>
<span class="t" style="left:2008.9px;top:1102px;font-size:22.5px;color:#4f44e0;letter-spacing:-0.27px;transform:scaleX(0.9474);transform-origin:0 50%;"># 1</span>
<div class="abs" style="left:2067.3px;top:1088px;width:121.2px;height:47.5px;border:2px solid #e6e6e6;border-radius:10px"></div>
<svg class="abs" style="left:2080px;top:1098px" width="30" height="28" fill="none" stroke="#8a8a8f" stroke-width="2" stroke-linecap="round" stroke-linejoin="round"><path d="M4 14.4H9.4L12 6.2L18.4 21.6L21.6 14.4H25.6"/></svg>
<span class="t" style="left:2121.6px;top:1101px;font-size:23.0px;color:#55545a;-webkit-text-stroke:0.4px #55545a;letter-spacing:-0.24px;">5,448</span>
<div class="abs" style="left:2318.6px;top:1100.5px;width:4.8px;height:4.8px;border-radius:50%;background:#25232b"></div>
<div class="abs" style="left:2318.6px;top:1110.1px;width:4.8px;height:4.8px;border-radius:50%;background:#25232b"></div>
<div class="abs" style="left:2318.6px;top:1119.7px;width:4.8px;height:4.8px;border-radius:50%;background:#25232b"></div>
</div>
</div>

</div>
</body>
</html>
